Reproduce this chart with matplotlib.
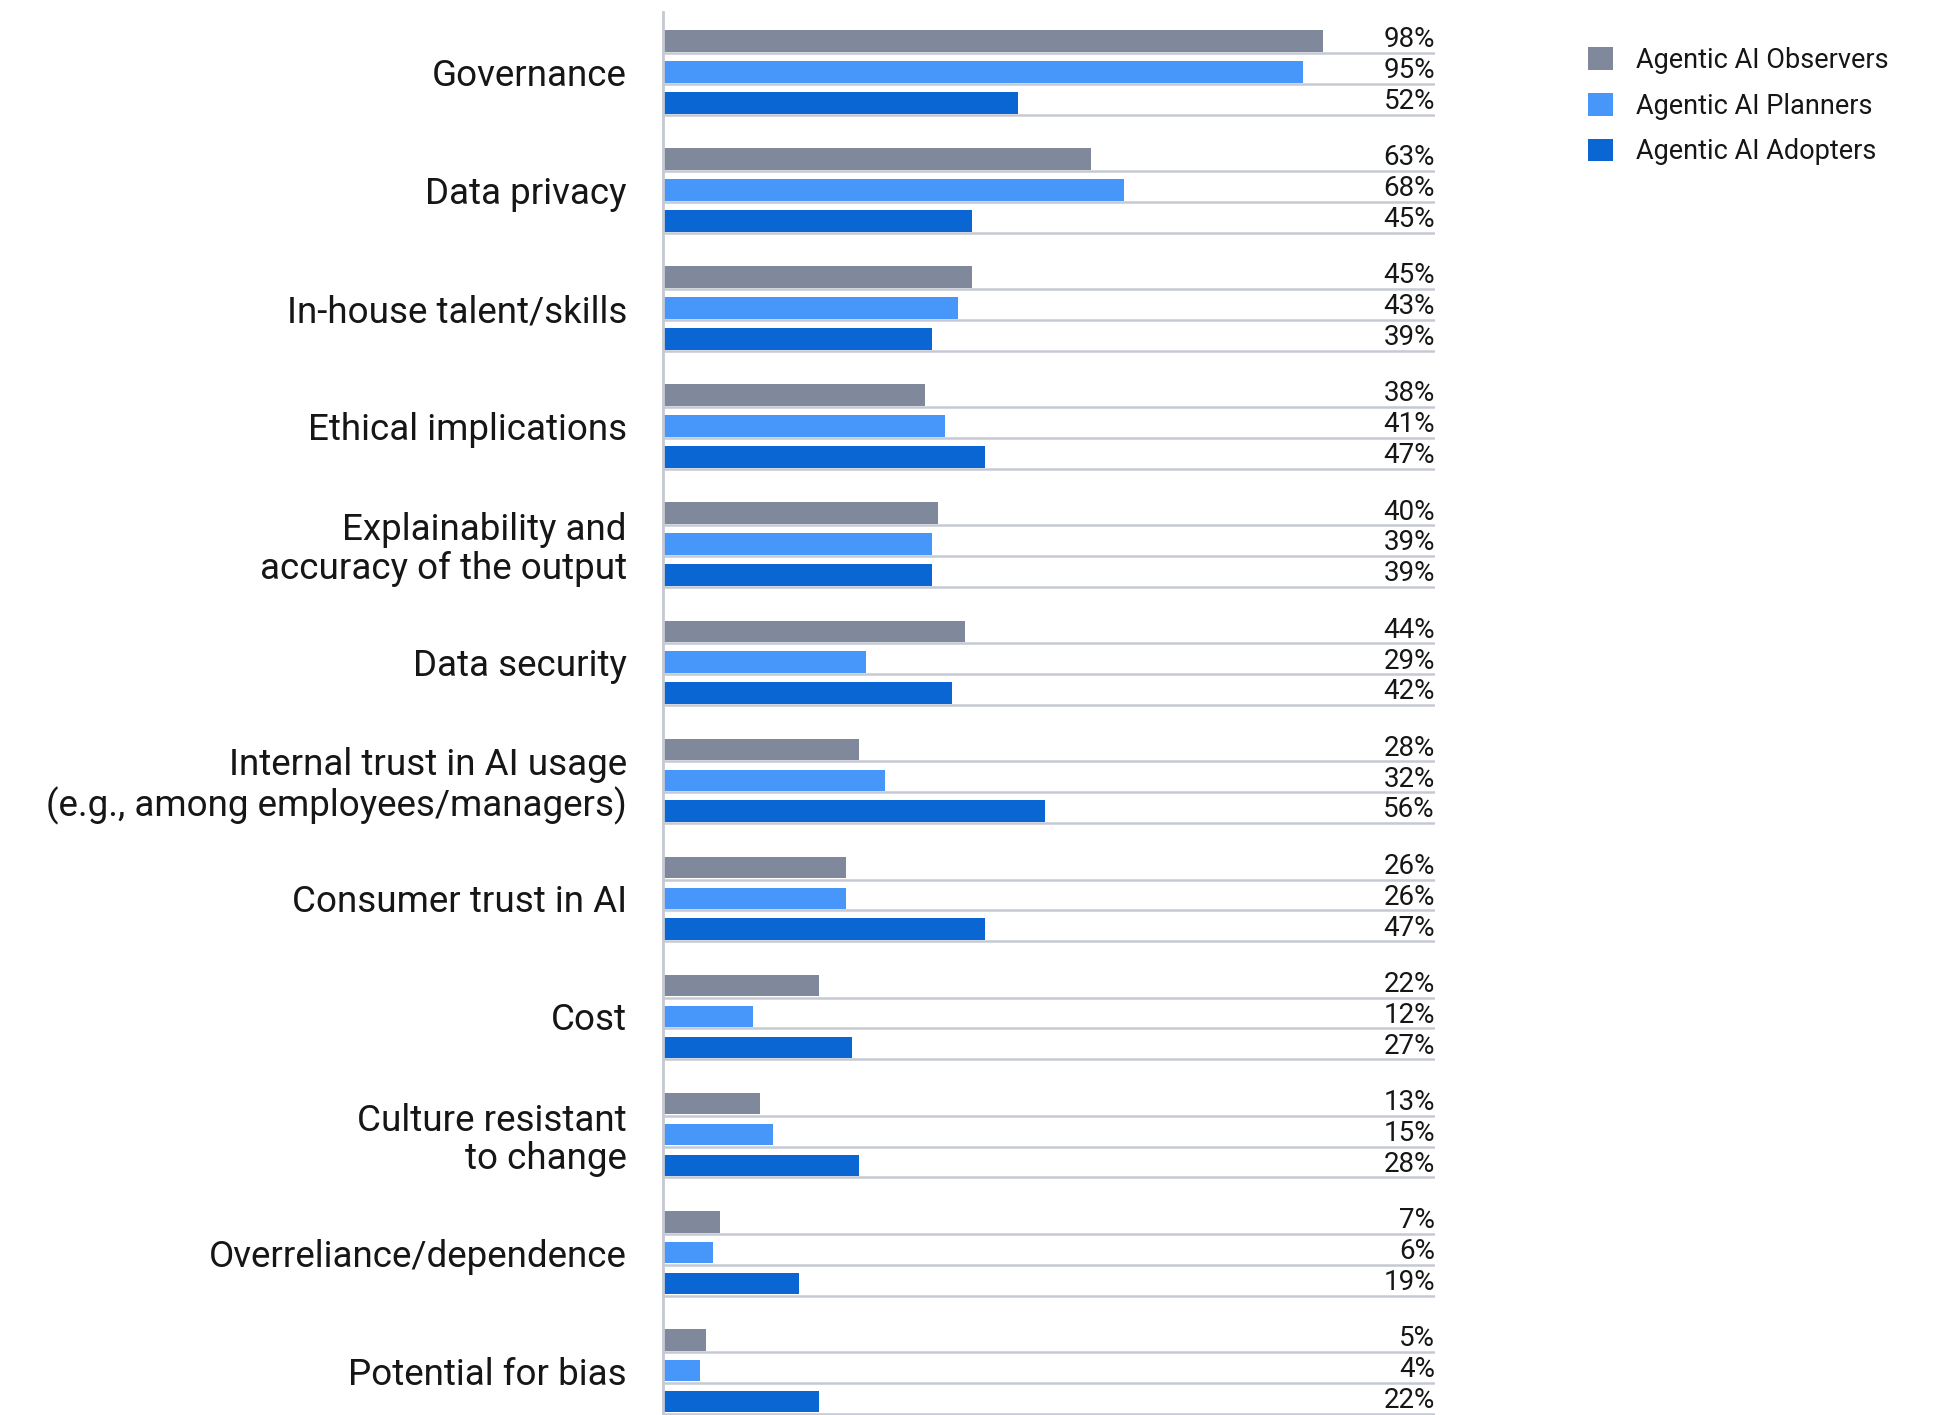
import numpy as np
import matplotlib
matplotlib.use("Agg")
import matplotlib.pyplot as plt
from matplotlib.patches import Patch

plt.rcParams['font.family'] = ['Roboto', 'DejaVu Sans']

categories = [
    'Governance',
    'Data privacy',
    'In-house talent/skills',
    'Ethical implications',
    'Explainability and\naccuracy of the output',
    'Data security',
    'Internal trust in AI usage\n(e.g., among employees/managers)',
    'Consumer trust in AI',
    'Cost',
    'Culture resistant\nto change',
    'Overreliance/dependence',
    'Potential for bias',
]
observers = [98, 63, 45, 38, 40, 44, 28, 26, 22, 13, 7, 5]
planners = [95, 68, 43, 41, 39, 29, 32, 26, 12, 15, 6, 4]
adopters = [52, 45, 39, 47, 39, 42, 56, 47, 27, 28, 19, 22]
series_names = ['Agentic AI Observers', 'Agentic AI Planners', 'Agentic AI Adopters']
colors = ['#80899b', '#4697f9', '#0966d2']
line_color = '#c5c9d1'

group_pitch = 3.824
bar_h = 0.7
xmin, xmax = -1.56, 114.9

fig = plt.figure(figsize=(19.36, 14.15), dpi=100)
ax = fig.add_axes([663 / 1936, 0, (1435 - 663) / 1936, 1 - 12 / 1415])

groups = np.arange(len(categories)) * group_pitch
for j, (vals, col) in enumerate(zip([observers, planners, adopters], colors)):
    y = groups + j
    vals = np.array(vals)
    # bars start at the axis line, which sits a little left of zero
    ax.barh(y, vals - xmin, left=xmin, height=bar_h, color=col, zorder=2)
    ax.hlines(y + bar_h / 2 + 0.04, xmin, xmax, color=line_color, lw=1.8, zorder=1)
    for yy, v in zip(y, vals):
        ax.text(xmax, yy - 0.04, f'{v}%', ha='right', va='center',
                fontsize=20, color='#161616')

ax.set_xlim(xmin, xmax)
ax.set_ylim(44.5, -0.94)
ax.set_yticks(groups + 1)
ax.set_yticklabels(categories, fontsize=26.5, color='#161616', linespacing=1.1)
ax.tick_params(axis='y', length=0, pad=26)
ax.set_xticks([])
for s in ['top', 'right', 'bottom']:
    ax.spines[s].set_visible(False)
ax.spines['left'].set_color(line_color)
ax.spines['left'].set_linewidth(2)

handles = [Patch(facecolor=c, edgecolor='none') for c in colors]
fig.legend(handles, series_names, loc='upper left',
           bbox_to_anchor=(1588 / 1936, 1 - 47 / 1415), frameon=False,
           fontsize=19.5, handlelength=0.92, handleheight=0.92,
           handletextpad=0.87, labelspacing=0.69, borderpad=0,
           borderaxespad=0, labelcolor='#161616')

fig.savefig('out.png', dpi=100)
